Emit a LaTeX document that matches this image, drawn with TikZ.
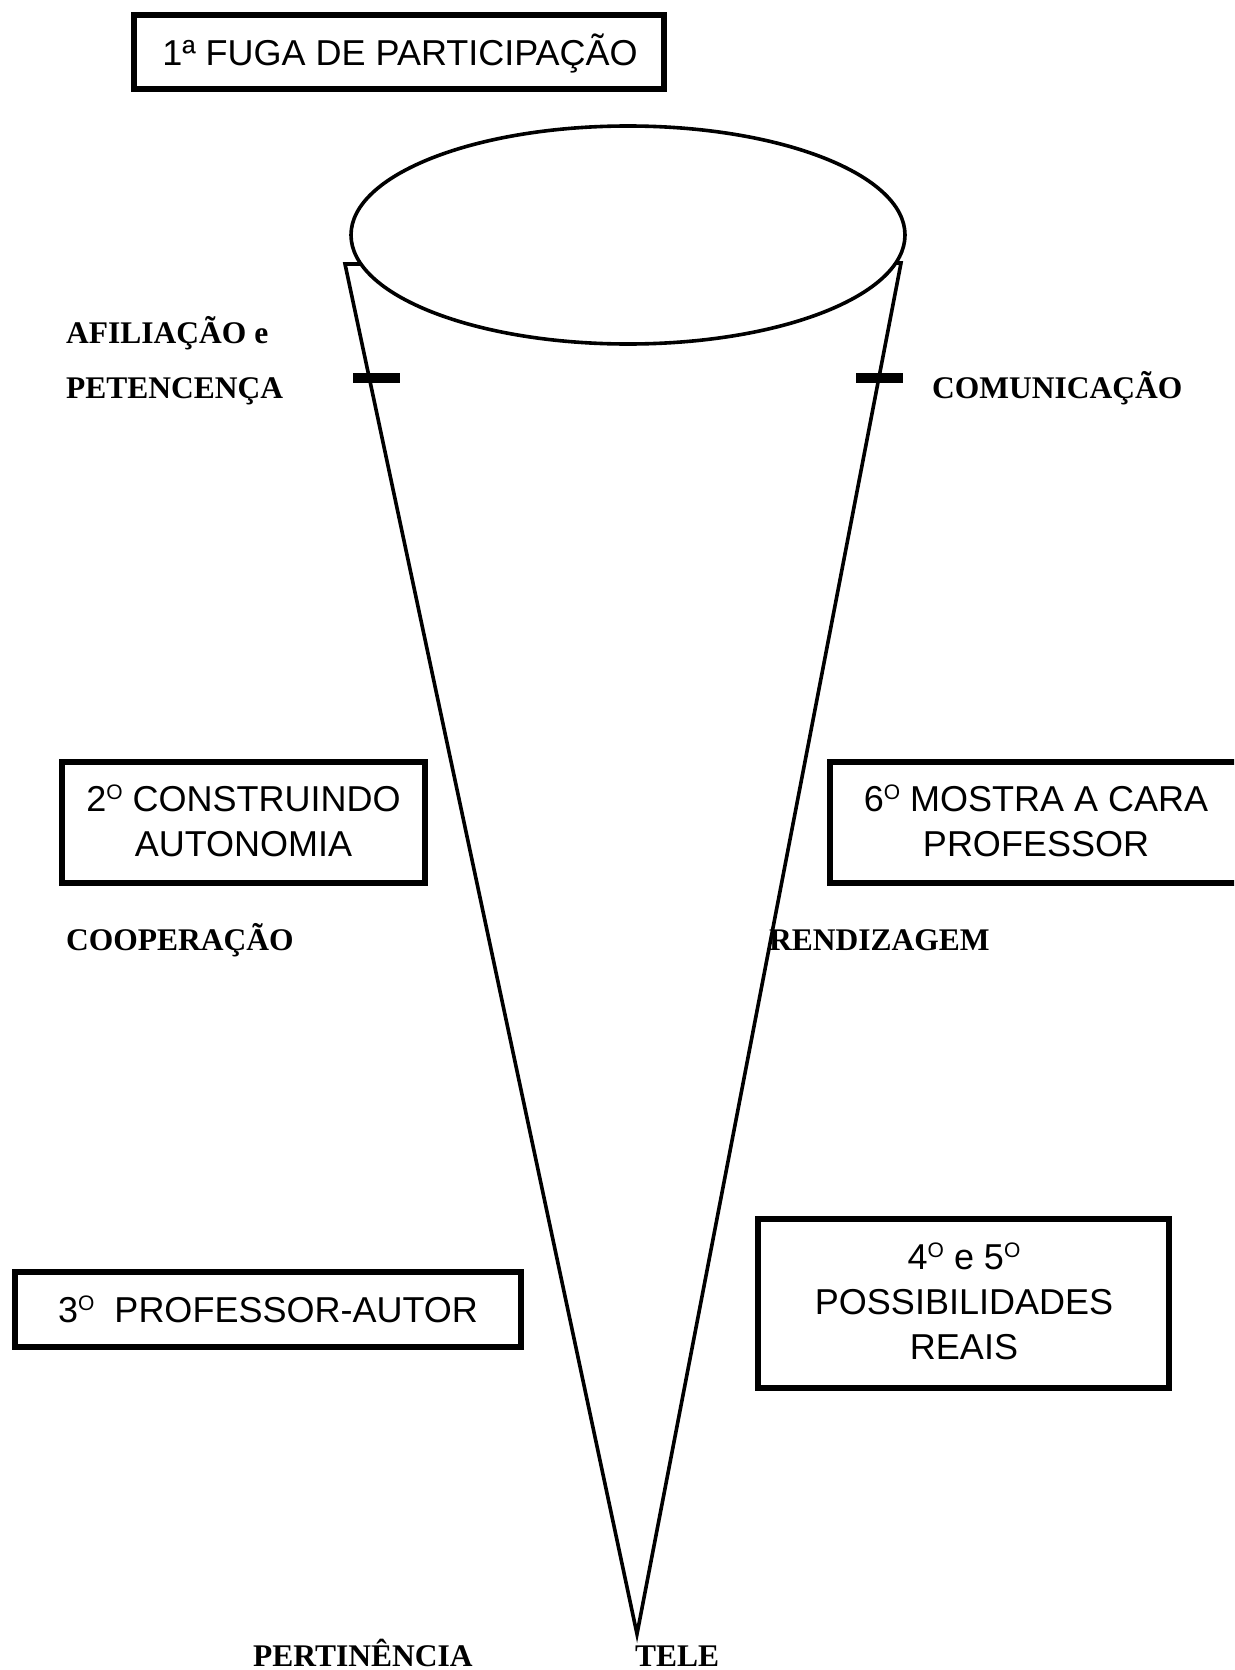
\documentclass[tikz,border=0pt]{standalone}
\usepackage{fontspec}
\usetikzlibrary{shapes.geometric}
\setmainfont{Liberation Serif}
\setsansfont{Liberation Sans}
\newcommand\ordO{\raisebox{12pt}{\fontsize{21}{21}\selectfont O}}
\begin{document}
\begin{tikzpicture}[x=1pt,y=-1pt,
  box/.style={draw, line width=6pt, rectangle, inner sep=0pt, fill=white},
  stxt/.style={font=\sffamily\fontsize{36}{45}\selectfont, inner sep=0pt, anchor=base},
  lbl/.style={font=\bfseries\fontsize{31.5}{38}\selectfont, inner sep=0pt, anchor=base west},
  rim/.style={line width=3.6pt},
  tick/.style={line width=10pt}]
\clip (0,0) rectangle (1234,1670);
\fill[white] (0,0) rectangle (1234,1670);

% cone
\draw[rim, fill=white, line join=miter] (345,264) -- (637,1634) -- (901,263) -- cycle;
\node[draw, rim, fill=white, ellipse, minimum width=554pt, minimum height=218pt, inner sep=0pt] (top) at (628,235) {};
\draw[tick] (353,377.5) -- (400,377.5);
\draw[tick] (856,377.5) -- (903,377.5);

% boxes
\node[box, minimum width=530pt, minimum height=74pt] (b1) at (399,52) {};
\node[stxt] (t1) at (400,66) {1ª FUGA DE PARTICIPAÇÃO};

\node[box, minimum width=363pt, minimum height=121pt] (b2) at (243.5,822.5) {};
\node[stxt] (t2a) at (243.5,811) {2\ordO\ CONSTRUINDO};
\node[stxt] (t2b) at (243.5,856) {AUTONOMIA};

\node[box, minimum width=430pt, minimum height=121pt] (b6) at (1045,822.5) {};
\node[stxt] (t6a) at (1036,811) {6\ordO\ MOSTRA A CARA};
\node[stxt] (t6b) at (1036,856) {PROFESSOR};

\node[box, minimum width=506pt, minimum height=75pt] (b3) at (268,1309.5) {};
\node[stxt] (t3) at (268,1322) {3\ordO\ \ PROFESSOR-AUTOR};

\node[box, minimum width=411pt, minimum height=169pt] (b4) at (963.5,1303.5) {};
\node[stxt] (t4a) at (964,1269) {4\ordO\ e 5\ordO};
\node[stxt] (t4b) at (964,1314) {POSSIBILIDADES};
\node[stxt] (t4c) at (964,1359) {REAIS};

% labels
\node[lbl] (afil) at (66,343) {AFILIAÇÃO e};
\node[lbl] (pete) at (66,398) {PETENCENÇA};
\node[lbl] (comu) at (932,398) {COMUNICAÇÃO};
\node[lbl] (coop) at (66,950) {COOPERAÇÃO};
\node[lbl] (rend) at (769,950) {RENDIZAGEM};
\node[lbl] (pert) at (253,1666) {PERTINÊNCIA};
\node[lbl] (tele) at (635,1666) {TELE};
\end{tikzpicture}
\end{document}
